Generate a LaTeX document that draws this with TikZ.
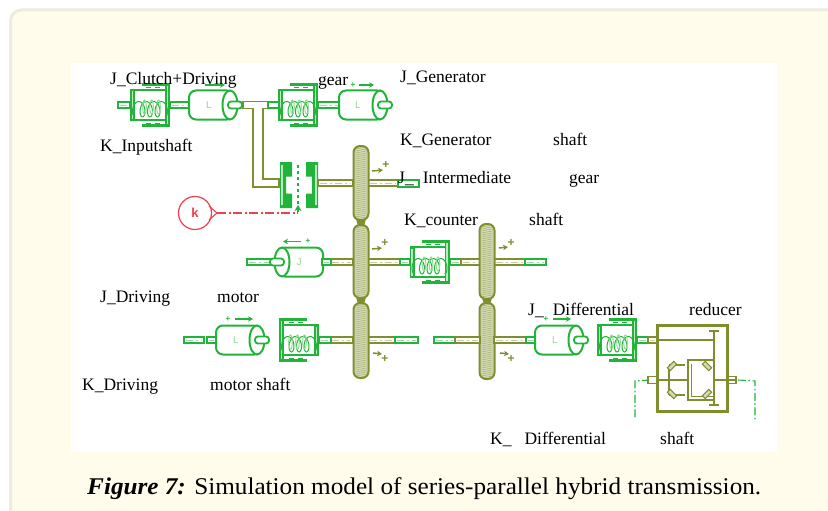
\documentclass[tikz,border=0pt]{standalone}
\usepackage{fontspec}
\setmainfont{Liberation Serif}
\setsansfont{Liberation Sans}
\newfontfamily\capfont{Liberation Serif}[FakeStretch=1.05]
\usetikzlibrary{arrows.meta}
\definecolor{gr}{HTML}{22B33A}
\definecolor{lgr}{HTML}{8FDC95}
\definecolor{ol}{HTML}{7F8F30}
\definecolor{lol}{HTML}{D5DBB8}
\definecolor{rd}{HTML}{EE4050}
\definecolor{cream}{HTML}{FFFCEB}
\definecolor{edge}{HTML}{EFEBDD}
\tikzset{
  lab/.style={anchor=base west,font=\fontsize{17.5}{19}\selectfont,text=black,inner sep=0pt},
  letter/.style={font=\sffamily\fontsize{10}{10}\selectfont,text=lgr,inner sep=0pt},
  sign/.style={font=\sffamily\bfseries\fontsize{8}{8}\selectfont,inner sep=0pt},
  bigsign/.style={font=\sffamily\bfseries\fontsize{12}{12}\selectfont,inner sep=0pt,text=ol},
  garrow/.style={line width=1.5pt,-{Stealth[length=5pt,width=5.5pt]}},
  box/.style={ol,line width=3pt},
  inner/.style={ol,line width=1.7pt},
  axle/.style={gr,line width=1.1pt,dash pattern=on 8pt off 2.5pt on 1.5pt off 2.5pt},
}
% shaft: colour, x1, x2, y
\newcommand\shft[4]{%
  \draw[#1,fill=white,line width=1.9pt] (#2,#4-3.4) rectangle (#3,#4+3.4);
  \draw[#1!45,line width=.8pt,dash pattern=on 7pt off 3pt on 2pt off 3pt] (#2+2,#4) -- (#3-2,#4);}
% gear: centre x, y top, y bottom
\newcommand\gearwheel[3]{%
  \draw[ol,fill=lol,line width=2pt,rounded corners=6.5pt] (#1-7.5,#2) rectangle (#1+7.5,#3);
  \begin{scope}
    \clip[rounded corners=6pt] (#1-6.5,#2+1) rectangle (#1+6.5,#3-1);
    \pgfmathtruncatemacro\ysec{#2+2}
    \foreach \yy in {#2,\ysec,...,#3}{\draw[ol!75,line width=.45pt] (#1-8,\yy+1.5) -- (#1+8,\yy-1.5);}
  \end{scope}}
% inertia: centre x, y, direction (+1 disc on right, -1 on left)
\newcommand\inertia[3]{%
  \begin{scope}[shift={(#1,#2)},xscale=#3]
    \draw[gr,fill=white,line width=2pt,rounded corners=7pt] (-24,-14.5) -- (21,-14.5) -- (21,14.5) -- (-24,14.5) -- cycle;
    \draw[gr,fill=white,line width=2pt] (17,0) ellipse [x radius=7.5,y radius=14.5];
    \draw[gr,fill=white,line width=1.8pt,rounded corners=3pt] (15,-3.5) rectangle (29,3.5);
  \end{scope}}
% spring: centre x, y, direction (+1 tall wall on right)
\newcommand\springunit[3]{%
  \begin{scope}[shift={(#1,#2)},xscale=#3]
    \draw[gr,line width=1.7pt] (-18,-15) -- (18,-15) (-18,15) -- (18,15);
    \draw[gr,line width=2.2pt] (-8,-20.5) -- (20,-20.5) (-8,20.5) -- (20,20.5);
    \draw[gr,line width=.9pt] (-4,-18) -- (1,-18) (5,-18) -- (10,-18) (-4,18) -- (1,18) (5,18) -- (10,18);
    \fill[gr] (-20,-15.8) rectangle (-15,15.8);
    \fill[lgr!60] (-18.3,-13.5) rectangle (-16.7,13.5);
    \fill[gr] (15,-21.3) rectangle (20,21.3);
    \fill[lgr!60] (16.7,-19) rectangle (18.3,19);
    \draw[gr,line width=1pt] plot[domain=0:1,samples=70,smooth] ({-15+30*\x+4.2*sin(4*360*\x+180)},{12-15.5*sin(4*180*\x)*sin(4*180*\x)});
    \foreach \ex in {-5.5,1.5,8.5}{\draw[lgr,line width=1pt] (\ex,2) ellipse [x radius=1.8,y radius=7];}
  \end{scope}}
\newcommand\clutchhalf[2]{%
  \begin{scope}[shift={(#1,185)},xscale=#2]
    \fill[gr] (-9,-23) -- (3,-23) -- (3,-8.5) -- (-3,-8.5) -- (-3,8.5) -- (3,8.5) -- (3,23) -- (-9,23) -- cycle;
    \fill[lgr!60] (-7.6,-20) rectangle (-6.2,20);
  \end{scope}}
\newcommand\spurgear[3]{%
  \begin{scope}[shift={(#1,#2)},rotate=#3]
    \draw[ol,fill=lol,line width=1.1pt] (-4.5,-2) -- (4.5,-2) -- (4.5,2) -- (-4.5,2) -- cycle;
  \end{scope}}
\begin{document}
\begin{tikzpicture}[x=1pt,y=-1pt]
\useasboundingbox (0,0) rectangle (828,511);
\fill[white] (0,0) rectangle (828,511);
\draw[edge,fill=cream,line width=3pt,rounded corners=11pt] (10.5,10) rectangle (840,525);
\fill[white] (71,63) rectangle (777,452);

%% ---- top row
\shft{gr}{118}{130}{105}
\springunit{150}{105}{1}
\shft{gr}{170}{190}{105}
\draw[ol,line width=1.9pt,fill=white] (243,101.5) -- (277,101.5) -- (277,108.5) -- (263,108.5) -- (263,179) -- (279,179) -- (279,187) -- (253,187) -- (253,108.5) -- (243,108.5) -- cycle;
\inertia{213}{105}{1}
\draw[gr,line width=1.8pt,fill=white] (268,101.7) rectangle (279,108.3);
\springunit{298}{105}{1}
\shft{gr}{318}{342}{105}
\inertia{363}{105}{1}
\node[letter] (i1) at (209,105) {L};
\node[letter] (i2) at (358,105) {L};
\draw[gr,garrow] (205,85) -- (225,85);
\draw[gr,garrow] (359,85) -- (374,85);
\node[sign,text=gr] (p1) at (353,85) {+};

%% ---- clutch
\coordinate (clutchtip) at (298,205);
\coordinate (clutchtop) at (298,165);
\draw[gr,line width=1.3pt,dashed] (clutchtop) -- (clutchtip);
\draw[gr,line width=1.2pt,-{Stealth[length=6pt,width=7pt]}] (298,212) -- (clutchtip);
\clutchhalf{289}{1}
\clutchhalf{309}{-1}
\shft{ol}{318}{353}{183}
\shft{ol}{368}{398}{183}
\draw[gr,fill=white,line width=1.9pt] (398,180) rectangle (419,187);

%% ---- k
\node[circle,draw=rd,line width=1.2pt,minimum size=33pt,inner sep=0pt,text=rd,font=\sffamily\bfseries\fontsize{13}{13}\selectfont] (k) at (195,213) {k};
\coordinate (kend) at (298,213);
\coordinate (kjoin) at (217,213);
\draw[rd,line width=1.1pt] (209,206) -- (kjoin) -- (209,220);
\draw[rd,line width=1.3pt,dash pattern=on 9pt off 2.5pt on 2pt off 2.5pt] (kjoin) -- (kend);

%% ---- gears of the first column (shafts under them first)
\shft{ol}{330}{353}{262}
\shft{ol}{368}{400}{262}
\shft{ol}{330}{353}{340}
\shft{ol}{368}{395}{340}
\gearwheel{361}{146}{220}
\gearwheel{361}{225}{298}
\gearwheel{361}{303}{378}
\fill[ol] (356,219) -- (366,219) -- (364,226) -- (358,226) -- cycle;
\fill[ol] (356,297) -- (366,297) -- (364,304) -- (358,304) -- cycle;

%% ---- row 2
\shft{gr}{247}{285}{262}
\inertia{299}{262}{-1}
\shft{gr}{322}{331}{262}
\node[letter] (i3) at (299,262) {J};
\shft{gr}{400}{410}{262}
\springunit{429.5}{262}{1}
\shft{gr}{450}{461}{262}
\shft{ol}{461}{480}{262}
\shft{ol}{494}{525}{262}
\shft{gr}{525}{546}{262}
\gearwheel{487}{224}{299}
\gearwheel{487}{303}{379}
\fill[ol] (482,298) -- (492,298) -- (490,304) -- (484,304) -- cycle;
\draw[gr,garrow] (301,241.5) -- (283,241.5);
\node[sign,text=gr] (p2) at (308,241.5) {+};

%% ---- row 3 left
\shft{gr}{184}{204}{340}
\shft{gr}{207}{216}{340}
\inertia{240}{340}{1}
\node[letter] (i4) at (236,340) {L};
\draw[gr,garrow] (235,319) -- (253,319);
\node[sign,text=gr] (p3) at (228,319) {+};
\springunit{299}{340}{-1}
\shft{gr}{319}{331}{340}
\shft{gr}{395}{418}{340}

%% ---- row 3 right
\shft{gr}{434}{455}{340}
\shft{ol}{455}{480}{340}
\shft{ol}{494}{526}{340}
\shft{gr}{526}{536}{340}
\inertia{559}{340}{1}
\node[letter] (i5) at (555,340) {L};
\draw[gr,garrow] (553,319) -- (571,319);
\node[sign,text=gr] (p4) at (546,319) {+};
\springunit{617}{340}{1}
\shft{gr}{637}{648}{340}
\shft{ol}{648}{657}{340}

%% ---- direction marks at gears
\draw[ol,garrow] (372,171) -- (383,170);
\node[bigsign] (g1) at (386,165) {+};
\draw[ol,garrow] (372,249) -- (382,248);
\node[bigsign] (g2) at (385,243) {+};
\draw[ol,garrow] (373,353) -- (382,354);
\node[bigsign] (g3) at (385,359) {+};
\draw[ol,garrow] (499,248) -- (508,247);
\node[bigsign] (g4) at (511,243) {+};
\draw[ol,garrow] (500,353) -- (509,354);
\node[bigsign] (g5) at (511,359) {+};

%% ---- differential
\draw[axle] (650,380) -- (635,381) -- (635,418);
\draw[axle] (738,380) -- (755,381) -- (755,420);
\draw[ol,fill=white,line width=1.4pt] (648,376.5) rectangle (660,383.5);
\draw[ol,fill=white,line width=1.4pt] (725,376.5) rectangle (736,383.5);
\draw[box,fill=white] (657.5,325.5) rectangle (727.5,411);
\draw[inner] (657,340) -- (714,340);
\draw[inner] (714,331) -- (714,405) (709,331) -- (719,331) (709,405) -- (719,405);
\draw[inner,line width=1.8pt] (714,360) -- (688,360) -- (688,400) -- (714,400);
\draw[inner,line width=1.1pt] (691.5,364) -- (691.5,396.5) -- (714,396.5);
\draw[inner] (657,380) -- (688,380);
\draw[inner] (714,380) -- (736,380);
\draw[inner] (669,366) -- (669,395);
\draw[inner] (669,365) -- (685,365) (669,395) -- (685,395);
\spurgear{672}{366}{45}
\spurgear{672}{394}{-45}
\spurgear{707}{366}{-45}
\spurgear{707}{394}{45}

%% ---- labels
\node[lab] (t1) at (110,84.5) {J\_Clutch+Driving};
\node[lab] (t2) at (318,85.5) {gear};
\node[lab] (t3) at (400,82.5) {J\_Generator};
\node[lab] (t4) at (100,151) {K\_Inputshaft};
\node[lab] (t5) at (400,146) {K\_Generator};
\node[lab] (t6) at (553,146) {shaft};
\node[lab] (t7) at (398,183) {J\_\hspace{9pt}Intermediate};
\node[lab] (t8) at (569,183) {gear};
\node[lab] (t9) at (404,225) {K\_counter};
\node[lab] (t10) at (529,225) {shaft};
\node[lab] (t11) at (100,302) {J\_Driving};
\node[lab] (t12) at (217,302) {motor};
\node[lab] (t13) at (528,315) {J\_\hspace{9pt}Differential};
\node[lab] (t14) at (689,315) {reducer};
\node[lab] (t15) at (82,390) {K\_Driving};
\node[lab] (t16) at (210,390) {motor shaft};
\node[lab] (t17) at (490,444) {K\_\hspace{13pt}Differential};
\node[lab] (t18) at (660,444) {shaft};
\node[anchor=base west,inner sep=0pt,font=\capfont\fontsize{24}{26}\selectfont] (cap) at (87,494) {\textbf{\textit{Figure 7:}} Simulation model of series-parallel hybrid transmission.};
\end{tikzpicture}
\end{document}
